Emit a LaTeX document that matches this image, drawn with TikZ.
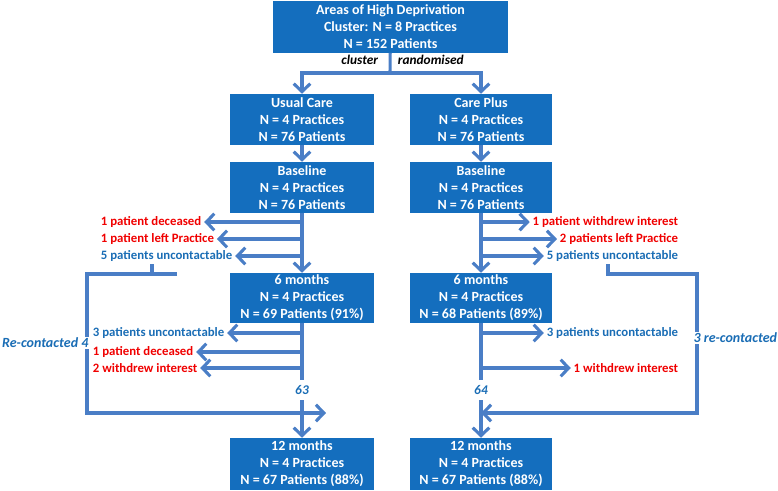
\documentclass[tikz,border=0pt]{standalone}
\usepackage{fontspec}
\setmainfont{Carlito}
\usetikzlibrary{arrows.meta}
\usepackage{xcolor}
\definecolor{boxColor}{HTML}{146EBE}
\definecolor{lineColor}{HTML}{4A7EC6}
\definecolor{blueText}{HTML}{1A6DB5}
\definecolor{redText}{HTML}{F00000}

\begin{document}
\begin{tikzpicture}[x=0.75pt,y=0.75pt,yscale=-1,
	box/.style={fill=boxColor, text=white, font=\fontsize{10.5}{12.75}\selectfont\bfseries, align=center, inner sep=0pt, minimum width=108pt, minimum height=38.25pt},
	note/.style={font=\fontsize{9.6}{11}\selectfont\bfseries, inner sep=2pt},
	flow/.style={draw=lineColor, line width=2.3pt},
	arr/.style={flow, -{Straight Barb[length=6pt,width=12.5pt]}}]
		\useasboundingbox (0,0) rectangle (778,490);

		% Boxes
		\node [box, minimum width=176.25pt, minimum height=39pt] (top) at (390.5,26.5) {Areas of High Deprivation\\Cluster: N = 8 Practices\\N = 152 Patients};
		\node [box] (usual)   at (302,119.5) {Usual Care\\N = 4 Practices\\N = 76 Patients};
		\node [box, minimum width=106.5pt] (plus) at (481,119.5) {Care Plus\\N = 4 Practices\\N = 76 Patients};
		\node [box] (baseL)   at (302,187.5) {Baseline\\N = 4 Practices\\N = 76 Patients};
		\node [box, minimum width=106.5pt] (baseR) at (481,187.5) {Baseline\\N = 4 Practices\\N = 76 Patients};
		\node [box, minimum height=37.5pt] (sixL) at (302,298) {6 months\\N = 4 Practices\\N = 69 Patients (91\%)};
		\node [box, minimum width=106.5pt, minimum height=37.5pt] (sixR) at (481,298) {6 months\\N = 4 Practices\\N = 68 Patients (89\%)};
		\node [box, minimum height=39pt] (twelveL) at (302,464) {12 months\\N = 4 Practices\\N = 67 Patients (88\%)};
		\node [box, minimum width=106.5pt, minimum height=39pt] (twelveR) at (481,464) {12 months\\N = 4 Practices\\N = 67 Patients (88\%)};

		% Text Node
		\node [note, font=\fontsize{10}{12}\selectfont\bfseries\itshape, anchor=east] (clus) at (381,60) {cluster};
		\node [note, font=\fontsize{10}{12}\selectfont\bfseries\itshape, anchor=west] (rand) at (395,60) {randomised};
		\node [note, text=redText,  anchor=west] (lostL1) at (98,222) {1 patient deceased};
		\node [note, text=redText,  anchor=west] (lostL2) at (98,239) {1 patient left Practice};
		\node [note, text=blueText, anchor=west] (lostL3) at (98,256) {5 patients uncontactable};
		\node [note, text=redText,  anchor=east] (lostR1) at (681,222) {1 patient withdrew interest};
		\node [note, text=redText,  anchor=east] (lostR2) at (681,239) {2 patients left Practice};
		\node [note, text=blueText, anchor=east] (lostR3) at (681,256) {5 patients uncontactable};
		\node [note, text=blueText, anchor=west] (dropL1) at (90,333) {3 patients uncontactable};
		\node [note, text=redText,  anchor=west] (dropL2) at (90,352) {1 patient deceased};
		\node [note, text=redText,  anchor=west] (dropL3) at (90,368) {2 withdrew interest};
		\node [note, text=blueText, anchor=east] (dropR1) at (681,333) {3 patients uncontactable};
		\node [note, text=redText,  anchor=east] (dropR2) at (681,368) {1 withdrew interest};
		\node [note, text=blueText, font=\fontsize{10}{12}\selectfont\bfseries\itshape, inner sep=4pt] (n63) at (302,390) {63};
		\node [note, text=blueText, font=\fontsize{10}{12}\selectfont\bfseries\itshape, inner sep=4pt] (n64) at (481,390) {64};

		% Branch points
		\coordinate (split) at (390,73);
		\coordinate (bl1) at (302,222);
		\coordinate (bl2) at (302,239);
		\coordinate (bl3) at (302,256);
		\coordinate (br1) at (481,222);
		\coordinate (br2) at (481,239);
		\coordinate (br3) at (481,256);
		\coordinate (sl1) at (302,333);
		\coordinate (sl2) at (302,352);
		\coordinate (sl3) at (302,368);
		\coordinate (sr1) at (481,333);
		\coordinate (sr2) at (481,368);
		\coordinate (tickL) at (152,274);
		\coordinate (recL1) at (177,274);
		\coordinate (recL2) at (87,274);
		\coordinate (recL3) at (87,413);
		\coordinate (recL4) at (326,413);
		\coordinate (recR1) at (608,274);
		\coordinate (recR2) at (697,274);
		\coordinate (recR3) at (697,413);
		\coordinate (recR4) at (481,413);

		% Straight Lines
		\draw [flow] (top) -- (split);
		\draw [flow] (sixL) -- (n63);
		\draw [flow] (sixR) -- (n64);
		\draw [flow] (lostL3.south -| tickL) -- (tickL);

		% Arrows
		\draw [arr] (split) -| (usual);
		\draw [arr] (split) -| (plus);
		\draw [arr] (usual) -- (baseL);
		\draw [arr] (plus) -- (baseR);
		\draw [arr] (baseL) -- (sixL);
		\draw [arr] (baseR) -- (sixR);
		\draw [arr] (n63) -- (twelveL);
		\draw [arr] (n64) -- (twelveR);
		\draw [arr] (bl1) -- (lostL1.east);
		\draw [arr] (bl2) -- (lostL2.east);
		\draw [arr] (bl3) -- (lostL3.east);
		\draw [arr] (br1) -- (lostR1.west);
		\draw [arr] (br2) -- (lostR2.west);
		\draw [arr] (br3) -- (lostR3.west);
		\draw [arr] (sl1) -- (dropL1.east);
		\draw [arr] (sl2) -- (dropL2.east);
		\draw [arr] (sl3) -- (dropL3.east);
		\draw [arr] (sr1) -- (dropR1.west);
		\draw [arr] (sr2) -- (dropR2.west);
		\draw [arr] (recL1) -- (recL2) -- (recL3) -- (recL4);
		\draw [arr] (lostR3.south -| recR1) -- (recR1) -- (recR2) -- (recR3) -- (recR4);

		% Re-contacted labels
		\node [note, text=blueText, fill=white, font=\fontsize{10.5}{12}\selectfont\bfseries\itshape, anchor=east, inner sep=1pt] (recL) at (90,343) {Re-contacted 4};
		\node [note, text=blueText, fill=white, font=\fontsize{10.5}{12}\selectfont\bfseries\itshape, anchor=west, inner sep=1pt] (recR) at (692,338) {3 re-contacted};
	\end{tikzpicture}
\end{document}
